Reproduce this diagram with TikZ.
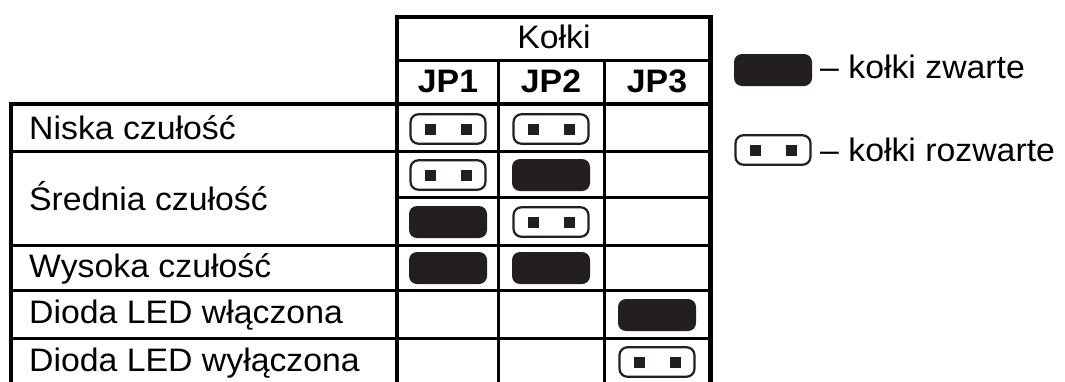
\documentclass[tikz,border=0pt]{standalone}
\usepackage{fontspec}
\setmainfont{Liberation Sans}[FakeStretch=1.04]
\definecolor{jpblack}{HTML}{231F20}
\tikzset{
  txt/.style={font=\fontsize{32.5}{39}\selectfont, inner sep=0pt, anchor=base west},
  hdr/.style={font=\fontsize{32.5}{39}\selectfont, inner sep=0pt, anchor=base},
  hdrb/.style={font=\fontsize{32.5}{39}\selectfont\bfseries, inner sep=0pt, anchor=base},
  closedjp/.style={fill=jpblack, rounded corners=8pt, minimum width=78pt, minimum height=32pt, inner sep=0pt},
  openjp/.style={draw=jpblack, line width=2.2pt, fill=white, rounded corners=8pt,
    minimum width=75pt, minimum height=29.5pt, inner sep=0pt,
    path picture={
      \fill[jpblack, sharp corners] ([xshift=-23.5pt,yshift=-5.5pt]path picture bounding box.center) rectangle +(11pt,11pt);
      \fill[jpblack, sharp corners] ([xshift=12.5pt,yshift=-5.5pt]path picture bounding box.center) rectangle +(11pt,11pt);
    }},
  outerline/.style={line width=4.5pt},
  innerline/.style={line width=3pt}
}
\begin{document}
\begin{tikzpicture}[x=1pt,y=-1pt]
\useasboundingbox (0,0) rectangle (1065,381);
\clip (0,0) rectangle (1065,381);
% grid
\draw[innerline] (397,60.5) -- (710.5,60.5);
\draw[innerline] (498,60.5) -- (498,390);
\draw[innerline] (604,60.5) -- (604,390);
\draw[innerline] (11,151) -- (710.5,151);
\draw[innerline] (397,197) -- (710.5,197);
\draw[innerline] (11,245) -- (710.5,245);
\draw[innerline] (11,290) -- (710.5,290);
\draw[innerline] (11,338) -- (710.5,338);
\draw[line width=3.8pt] (11,104) -- (710.5,104);
\draw[outerline] (397,390) -- (397,17) -- (710.5,17) -- (710.5,390);
\draw[outerline] (11,390) -- (11,104) -- (397,104);
% header
\node[hdr] (kolki) at (554,48) {Kołki};
\node[hdrb] (jp1) at (448,92) {JP1};
\node[hdrb] (jp2) at (551,92) {JP2};
\node[hdrb] (jp3) at (657,92) {JP3};
% row labels
\node[txt] (r1) at (29,139) {Niska czułość};
\node[txt] (r2) at (29,210) {Średnia czułość};
\node[txt] (r3) at (29,277) {Wysoka czułość};
\node[txt] (r4) at (29,323) {Dioda LED włączona};
\node[txt] (r5) at (29,371) {Dioda LED wyłączona};
% jumpers
\node[openjp] (a1) at (448,129) {};
\node[openjp] (b1) at (551,129) {};
\node[openjp] (a2) at (448,175) {};
\node[closedjp] (b2) at (551,175) {};
\node[closedjp] (a3) at (448,222) {};
\node[openjp] (b3) at (551,222) {};
\node[closedjp] (a4) at (448,268) {};
\node[closedjp] (b4) at (551,268) {};
\node[closedjp] (c5) at (657,315) {};
\node[openjp] (c6) at (657,362) {};
% legend
\node[closedjp] (lc) at (773,70) {};
\node[txt] (lct) at (820,78) {– kołki zwarte};
\node[openjp] (lo) at (773,150) {};
\node[txt] (lot) at (820,161) {– kołki rozwarte};
\end{tikzpicture}
\end{document}
